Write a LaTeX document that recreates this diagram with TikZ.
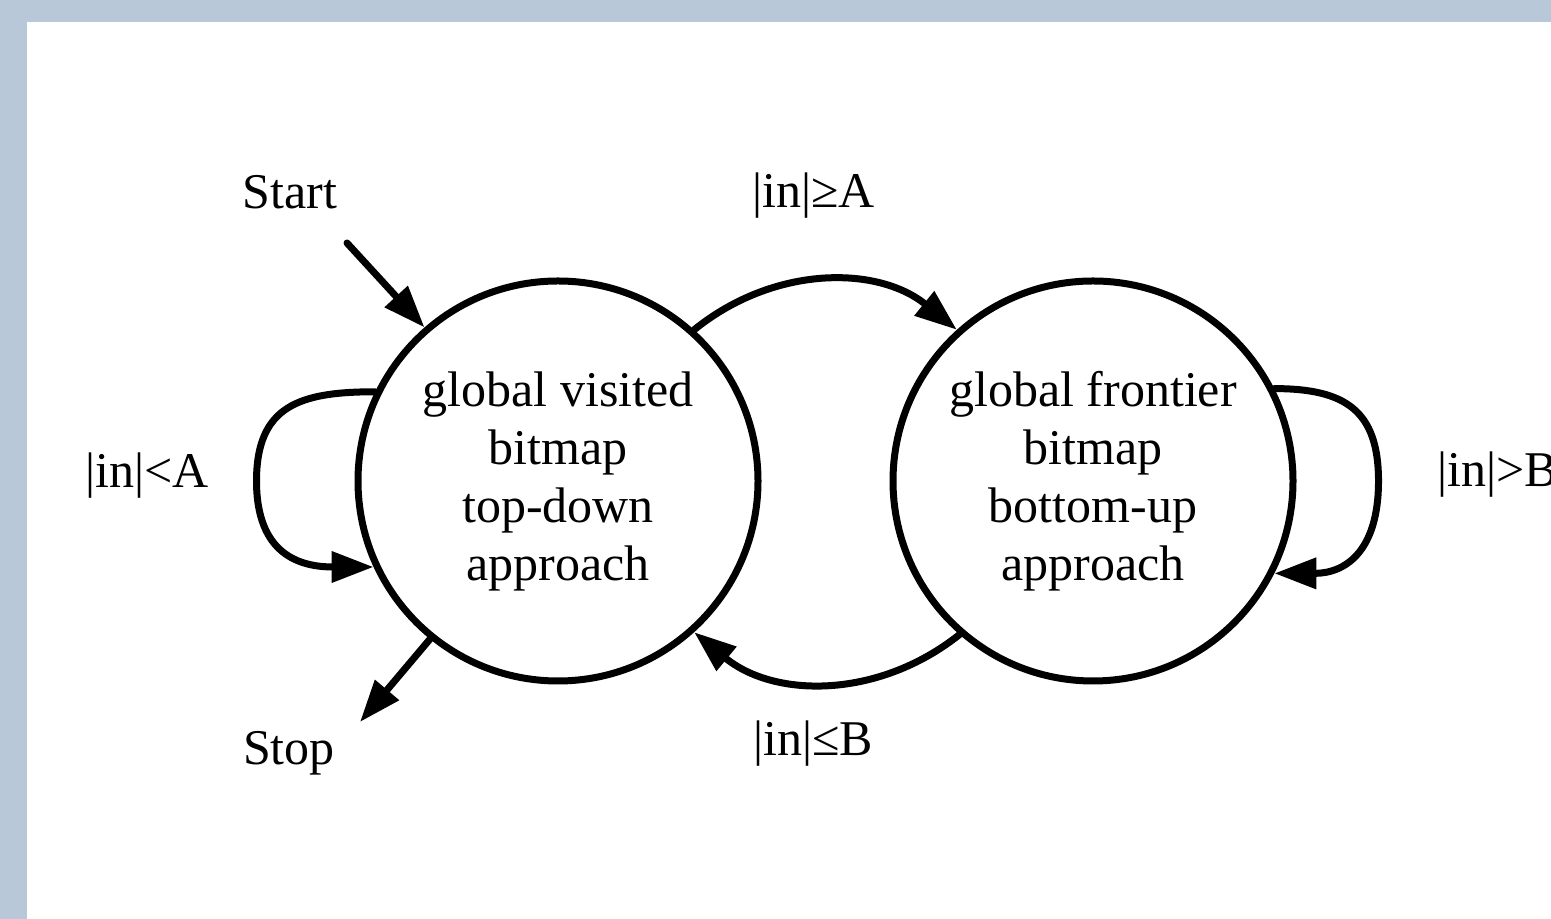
\documentclass[tikz,border=0pt]{standalone}
\usepackage{fontspec}
\setmainfont{Liberation Serif}
\usetikzlibrary{arrows.meta,positioning}
\definecolor{framegray}{RGB}{185,200,217}
\tikzset{
state/.style={draw,circle,line width=3.5pt,minimum size=200pt,inner sep=0pt,align=center},
guard/.style={anchor=base,inner sep=0pt},
move/.style={-{Triangle[length=21pt,width=15pt]},line width=3.5pt,line cap=round}
}
\begin{document}
\begin{tikzpicture}[x=0.5pt,y=0.5pt,font=\fontsize{25pt}{29pt}\selectfont]
\useasboundingbox (0,0) rectangle (1551,919);
\fill[framegray] (0,0) rectangle (1551,919);
\fill[white] (27,0) rectangle (1551,897);
\node[state](visited) at (558,438) {global visited\\bitmap\\top-down\\approach};
\node[state,right=64pt of visited](frontier) {global frontier\\bitmap\\bottom-up\\approach};
\coordinate (startpt) at (347,676);
\coordinate (stoppt) at (360,197);
\coordinate[left=49pt of visited](loopvisited);
\coordinate[right=41pt of frontier](loopfrontier);
\node[guard](start) at (290,710) {Start};
\node[guard](stop) at (289,154) {Stop};
\node[guard](geA) at (813.5,711) {|in|≥A};
\node[guard](leB) at (813,163) {|in|≤B};
\node[guard](ltA) at (147.5,431) {|in|<A};
\node[guard,anchor=base west](gtB) at (1437,432) {|in|>B};
\draw[move](startpt)--(visited.131);
\draw[move](visited.-129)--(stoppt);
\draw[move](visited.48) to[bend left=39] (frontier.132);
\draw[move](frontier.-131) to[bend left=39] (visited.-48);
\draw[move](visited.154) to[out=180,in=90,looseness=1.3] (loopvisited) to[out=-90,in=180,looseness=1.3] (visited.205);
\draw[move](frontier.27) to[out=0,in=90,looseness=1.3] (loopfrontier) to[out=-90,in=0,looseness=1.3] (frontier.-27);
\end{tikzpicture}
\end{document}
